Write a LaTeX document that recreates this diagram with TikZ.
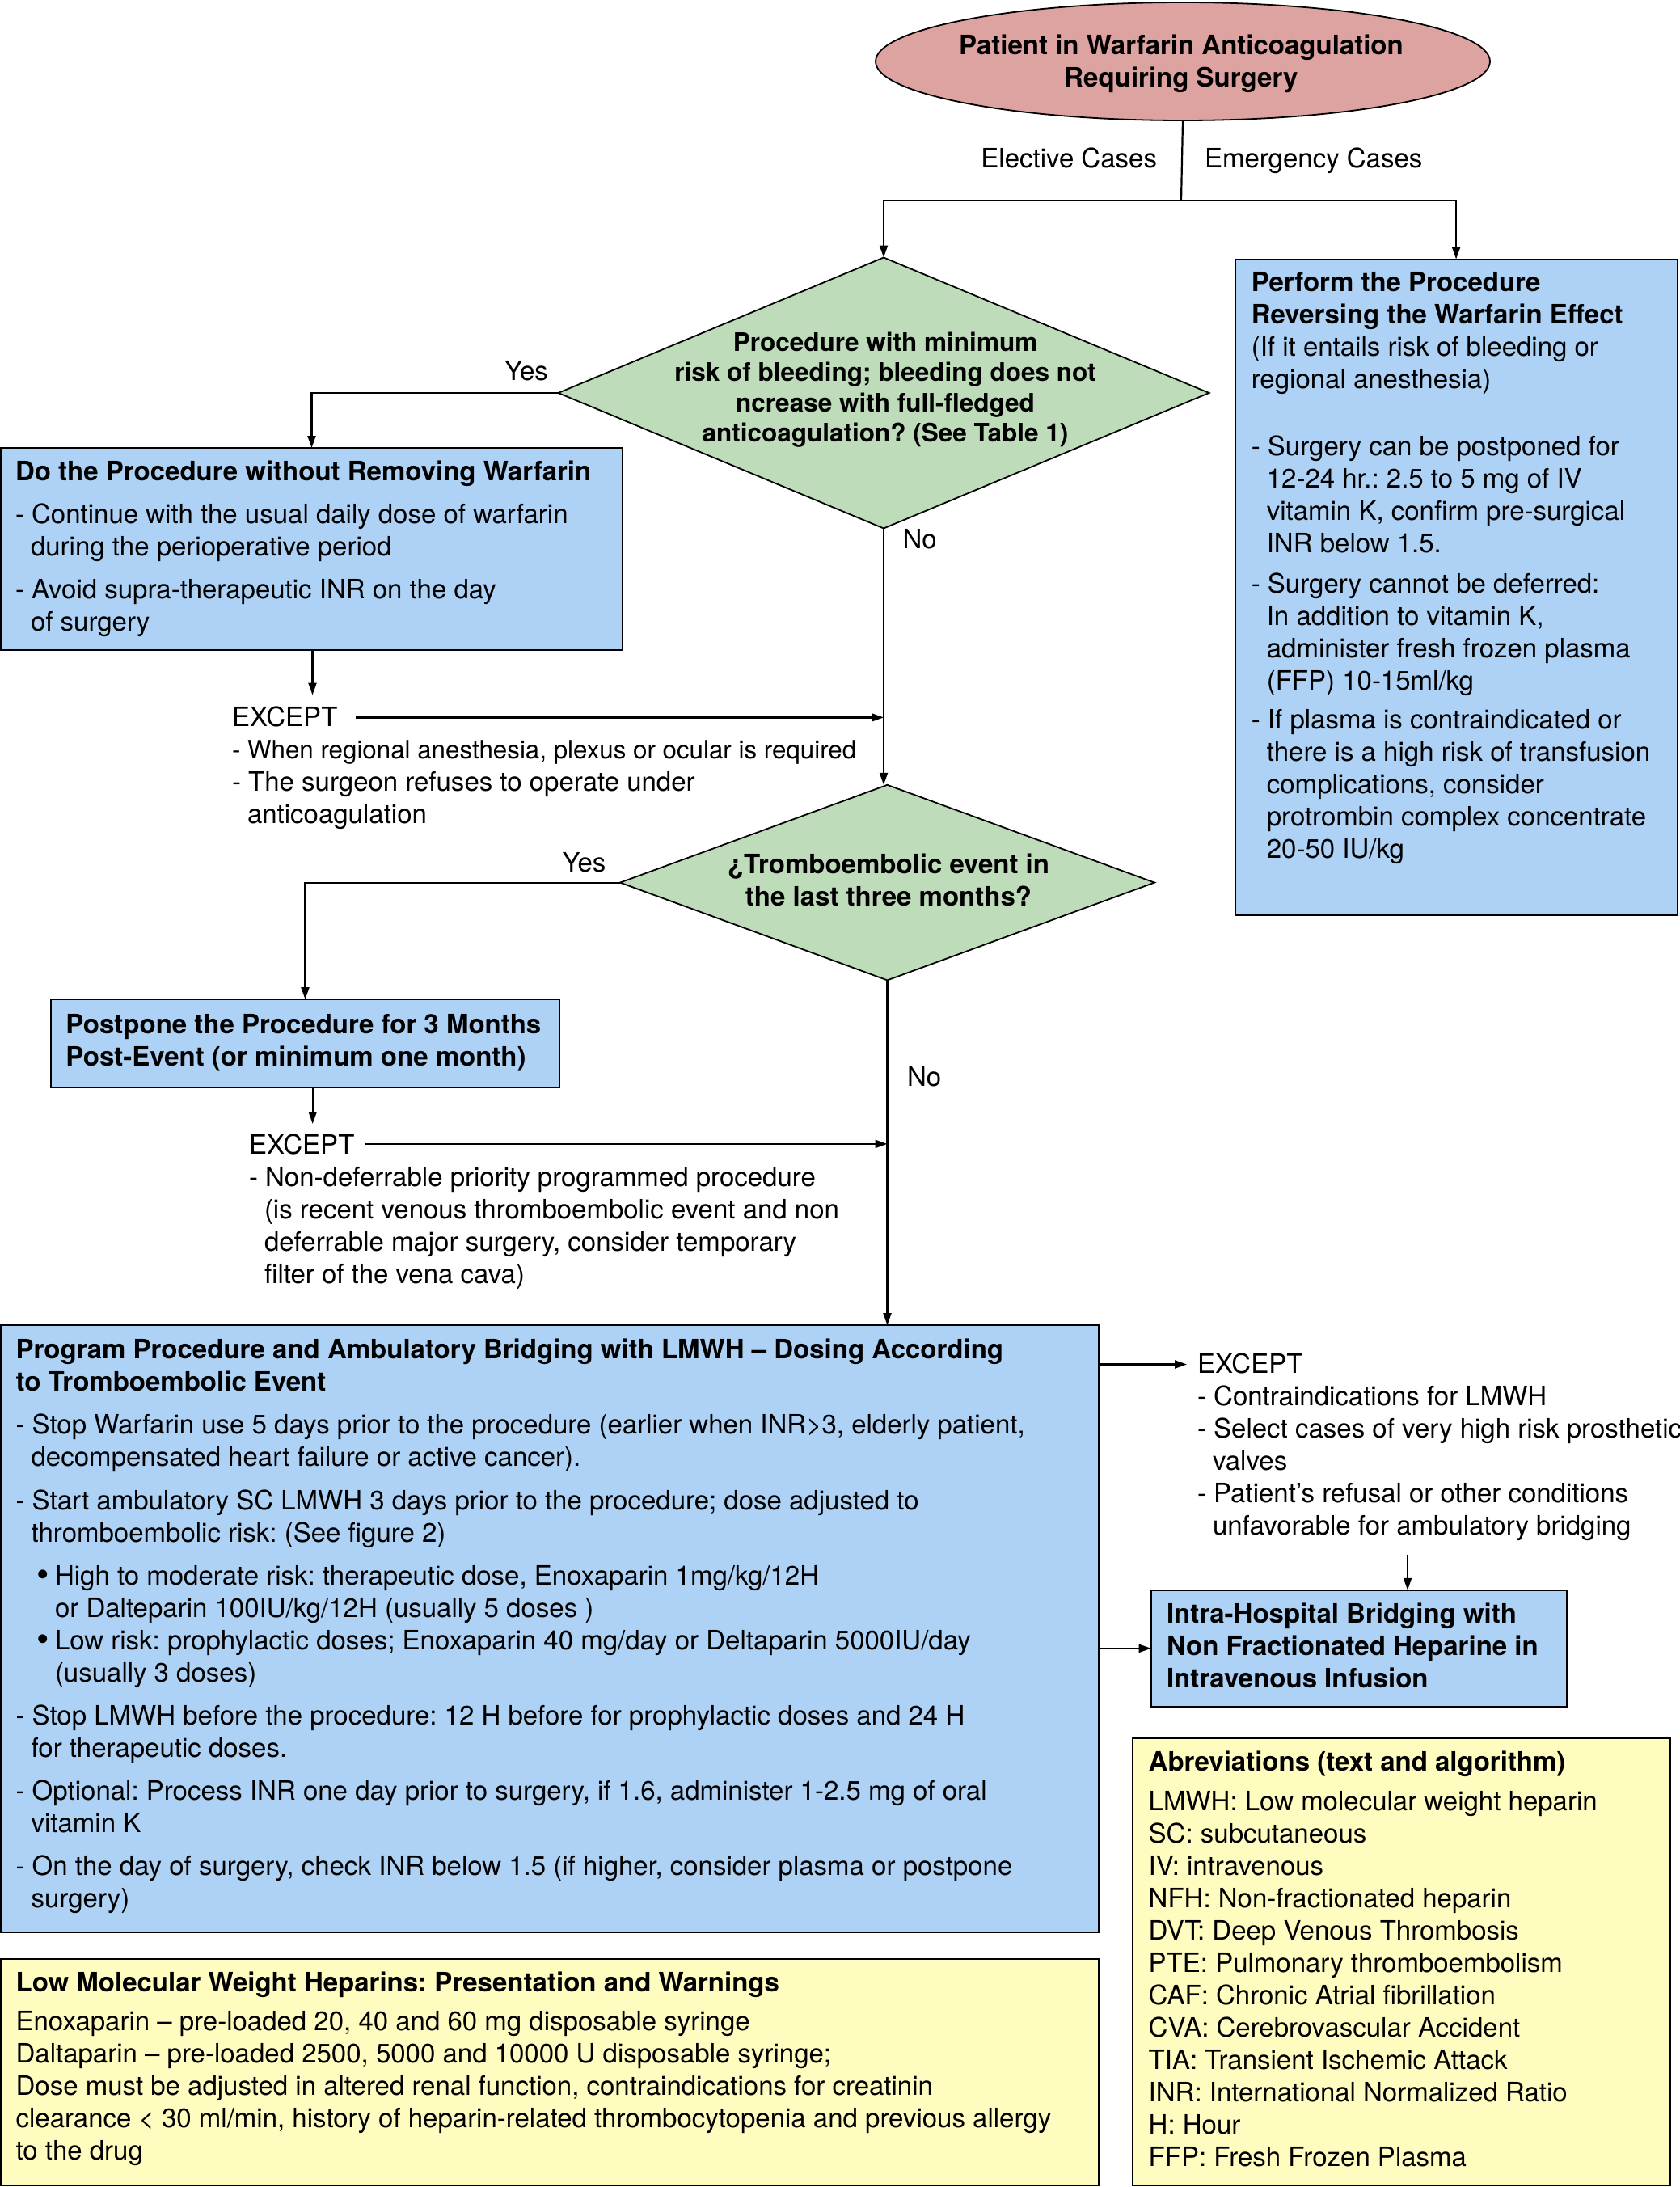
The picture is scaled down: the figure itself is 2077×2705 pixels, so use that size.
\documentclass[tikz,border=0pt]{standalone}
\usepackage{fontspec}
\setmainfont{TeX Gyre Heros}
\usetikzlibrary{shapes.geometric,arrows.meta,calc}
\definecolor{pinkE}{RGB}{221,163,160}
\definecolor{greenD}{RGB}{190,219,186}
\definecolor{blueB}{RGB}{173,210,245}
\definecolor{yellowB}{RGB}{255,252,192}
\newcommand{\fn}{\fontsize{33}{40}\selectfont}
\newcommand{\fnd}{\fontsize{31.5}{37.5}\selectfont}
\newcommand{\firstl}{\rule{0pt}{25pt}}
\newcommand{\ind}{\hspace*{19pt}}
\newcommand{\bul}{\hspace*{25.5pt}\makebox[22.9pt][l]{\raisebox{-1.5pt}{\fontsize{44}{40}\selectfont •}}}
\newcommand{\bind}{\hspace*{48.4pt}}
\frenchspacing
\begin{document}
\frenchspacing
\begin{tikzpicture}[x=1pt,y=-1pt,
  every node/.style={inner sep=0pt, outer sep=0pt},
  boxshape/.style={draw=black, line width=2pt, rectangle, anchor=north west},
  bluebox/.style={boxshape, fill=blueB},
  yellowbox/.style={boxshape, fill=yellowB},
  decision/.style={diamond, draw=black, line width=1.8pt, fill=greenD},
  txt/.style={font=\fn, align=left, anchor=north west},
  lbl/.style={font=\fn, anchor=base west},
  conn/.style={line width=2.2pt},
  arr/.style={line width=2.2pt, -{Triangle[length=15pt,width=10pt]}}
]
\useasboundingbox (0,0) rectangle (2077,2705);

% ---------- shapes ----------
\node[ellipse, draw=black, line width=1.8pt, fill=pinkE, minimum width=760pt, minimum height=146pt] (start) at (1463,76) {};
\node[decision, minimum width=805pt, minimum height=335pt] (d1) at (1093,486) {};
\node[decision, minimum width=661pt, minimum height=241.6pt] (d2) at (1097.5,1091.6) {};
\node[bluebox, minimum width=769pt, minimum height=250pt] (lbox) at (1,554) {};
\node[bluebox, minimum width=547pt, minimum height=811.5pt] (rbox) at (1527.6,320.6) {};
\node[bluebox, minimum width=629pt, minimum height=108.6pt] (pbox) at (63,1236) {};
\node[bluebox, minimum width=1358pt, minimum height=751pt] (bbox) at (1,1639) {};
\node[bluebox, minimum width=514pt, minimum height=144pt] (ibox) at (1423.7,1966.8) {};
\node[yellowbox, minimum width=665pt, minimum height=553pt] (abox) at (1401,2150) {};
\node[yellowbox, minimum width=1358pt, minimum height=280pt] (lowbox) at (1,2423) {};

% ---------- texts ----------
\node[txt, anchor=north, align=center, font=\fn\bfseries] (starttxt) at (1461,43)
  {\firstl Patient in Warfarin Anticoagulation\\Requiring Surgery};
\node[lbl, anchor=base east] (elect) at (1431,208) {Elective Cases};
\node[lbl] (emerg) at (1490,208) {Emergency Cases};

\node[txt, anchor=north, align=center, font=\fnd\bfseries] (d1txt) at (1095,409)
  {\firstl Procedure with minimum\\risk of bleeding; bleeding does not\\ncrease with full-fledged\\anticoagulation? (See Table 1)};
\node[lbl] (yes1) at (624,470.8) {Yes};
\node[lbl] (no1) at (1116.5,678.8) {No};

\node[txt] (lboxtxt) at (19,569)
  {\firstl\textbf{Do the Procedure without Removing Warfarin}\\[13pt]
   - Continue with the usual daily dose of warfarin\\
   \ind during the perioperative period\\[13pt]
   - Avoid supra-therapeutic INR on the day\\
   \ind of surgery};

\node[txt] (rboxtxt) at (1547.8,335.7)
  {\firstl\textbf{Perform the Procedure}\\
   \textbf{Reversing the Warfarin Effect}\\
   (If it entails risk of bleeding or\\
   regional anesthesia)\\[42.4pt]
   - Surgery can be postponed for\\
   \ind 12-24 hr.: 2.5 to 5 mg of IV\\
   \ind vitamin K, confirm pre-surgical\\
   \ind INR below 1.5.\\[10pt]
   - Surgery cannot be deferred:\\
   \ind In addition to vitamin K,\\
   \ind administer fresh frozen plasma\\
   \ind (FFP) 10-15ml/kg\\[8pt]
   - If plasma is contraindicated or\\
   \ind there is a high risk of transfusion\\
   \ind complications, consider\\
   \ind protrombin complex concentrate\\
   \ind 20-50 IU/kg};

\node[txt] (ex1) at (287,873)
  {\firstl EXCEPT\\
   {\fontsize{31.3}{40}\selectfont - When regional anesthesia, plexus or ocular is required}\\
   - The surgeon refuses to operate under\\
   \ind anticoagulation};

\node[txt, anchor=north, align=center, font=\fn\bfseries] (d2txt) at (1099,1055)
  {\firstl ¿Tromboembolic event in\\the last three months?};
\node[lbl] (yes2) at (695.5,1078) {Yes};
\node[lbl] (no2) at (1122,1343.8) {No};

\node[txt, font=\fn\bfseries] (pboxtxt) at (81.4,1253)
  {\firstl Postpone the Procedure for 3 Months\\Post-Event (or minimum one month)};

\node[txt] (ex2) at (308,1402)
  {\firstl EXCEPT\\
   - Non-deferrable priority programmed procedure\\
   \ind (is recent venous thromboembolic event and non\\
   \ind deferrable major surgery, consider temporary\\
   \ind filter of the vena cava)};

\node[txt] (bboxtxt) at (19.6,1655.7)
  {\firstl\textbf{Program Procedure and Ambulatory Bridging with LMWH -- Dosing According}\\
   \textbf{to Tromboembolic Event}\\[13pt]
   - Stop Warfarin use 5 days prior to the procedure (earlier when INR>3, elderly patient,\\
   \ind decompensated heart failure or active cancer).\\[14pt]
   - Start ambulatory SC LMWH 3 days prior to the procedure; dose adjusted to\\
   \ind thromboembolic risk: (See figure 2)\\[13pt]
   \bul High to moderate risk: therapeutic dose, Enoxaparin 1mg/kg/12H\\
   \bind or Dalteparin 100IU/kg/12H (usually 5 doses )\\
   \bul Low risk: prophylactic doses; Enoxaparin 40 mg/day or Deltaparin 5000IU/day\\
   \bind (usually 3 doses)\\[13pt]
   - Stop LMWH before the procedure: 12 H before for prophylactic doses and 24 H\\
   \ind for therapeutic doses.\\[13pt]
   - Optional: Process INR one day prior to surgery, if 1.6, administer 1-2.5 mg of oral\\
   \ind vitamin K\\[13pt]
   - On the day of surgery, check INR below 1.5 (if higher, consider plasma or postpone\\
   \ind surgery)};

\node[txt] (ex3) at (1481,1673)
  {\firstl EXCEPT\\
   - Contraindications for LMWH\\
   - Select cases of very high risk prosthetic\\
   \ind valves\\
   - Patient’s refusal or other conditions\\
   \ind unfavorable for ambulatory bridging};

\node[txt, font=\fn\bfseries] (iboxtxt) at (1443,1982)
  {\firstl Intra-Hospital Bridging with\\Non Fractionated Heparine in\\Intravenous Infusion};

\node[txt] (aboxtxt) at (1420.7,2165.5)
  {\firstl\textbf{Abreviations (text and algorithm)}\\[8.5pt]
   LMWH: Low molecular weight heparin\\
   SC: subcutaneous\\
   IV: intravenous\\
   NFH: Non-fractionated heparin\\
   DVT: Deep Venous Thrombosis\\
   PTE: Pulmonary thromboembolism\\
   CAF: Chronic Atrial fibrillation\\
   CVA: Cerebrovascular Accident\\
   TIA: Transient Ischemic Attack\\
   INR: International Normalized Ratio\\
   H: Hour\\
   FFP: Fresh Frozen Plasma};

\node[txt] (lowtxt) at (19.6,2438)
  {\firstl\textbf{Low Molecular Weight Heparins: Presentation and Warnings}\\[8.7pt]
   Enoxaparin -- pre-loaded 20, 40 and 60 mg disposable syringe\\
   Daltaparin -- pre-loaded 2500, 5000 and 10000 U disposable syringe;\\
   Dose must be adjusted in altered renal function, contraindications for creatinin\\
   clearance < 30 ml/min, history of heparin-related thrombocytopenia and previous allergy\\
   to the drug};

% ---------- connectors ----------
\coordinate (split) at (1461,248);
\draw[conn] (start.south) -- (split);
\draw[arr] (split) -| (d1.north);
\draw[arr] (split) -| (rbox.north);

\draw[arr] (d1.west) -| (lbox.north);
\coordinate (ex1top) at (386.5,859.6);
\draw[arr] (lbox.south -| ex1top) -- (ex1top);
\draw[arr] (d1.south) -- (d1.south |- d2.north);
\coordinate (e1a) at (440,887.4);
\draw[arr] (e1a) -- (e1a -| d1.south);

\draw[arr] (d2.west) -| (pbox.north);
\coordinate (ex2top) at (386.7,1390);
\draw[arr] (pbox.south -| ex2top) -- (ex2top);
\coordinate (e2a) at (450.5,1414.9);
\draw[arr] (e2a) -- (e2a -| d2.south);
\draw[arr] (d2.south) -- (d2.south |- bbox.north);

\coordinate (e3) at (1468,1687.5);
\draw[arr] (e3 -| bbox.east) -- (e3);
\coordinate (e3b) at (1741,1923);
\draw[arr] (e3b) -- (e3b |- ibox.north);
\draw[arr] (bbox.east |- ibox.west) -- (ibox.west);
\end{tikzpicture}
\end{document}
